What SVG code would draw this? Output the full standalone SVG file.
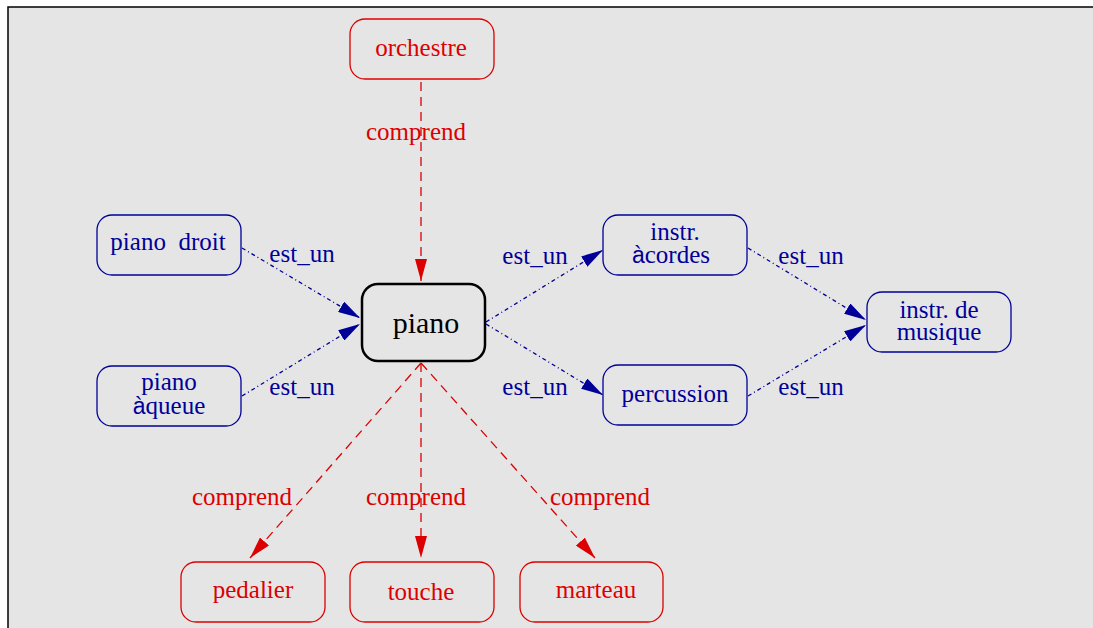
<svg xmlns="http://www.w3.org/2000/svg" width="1093" height="628" viewBox="0 0 1093 628">
<defs>
<style>
.t{font-family:"Liberation Serif","Times New Roman",serif;font-size:25px;text-anchor:middle}
.r{fill:#dd0000}
.b{fill:#000099}
.nr{fill:none;stroke:#dd0000;stroke-width:1.3}
.nb{fill:none;stroke:#000099;stroke-width:1.3}
.er{stroke:#dd0000;stroke-width:1.3;stroke-dasharray:9,6;fill:none;marker-end:url(#ar)}
.eb{stroke:#000099;stroke-width:1.3;stroke-dasharray:4,3,1,3;fill:none;marker-end:url(#ab)}
.s{font-family:"Liberation Sans",Arial,sans-serif;font-size:23px}
.big{font-size:30px;fill:#000}
</style>
<marker id="ar" markerUnits="userSpaceOnUse" markerWidth="22" markerHeight="12" refX="22" refY="6" orient="auto"><path d="M0,0 L22,6 L0,12 z" fill="#dd0000"/></marker>
<marker id="ab" markerUnits="userSpaceOnUse" markerWidth="22" markerHeight="12" refX="22" refY="6" orient="auto"><path d="M0,0 L22,6 L0,12 z" fill="#000099"/></marker>
</defs>
<rect x="0" y="0" width="1093" height="628" fill="#ffffff"/>
<rect x="8" y="7" width="1090" height="630" fill="#e5e5e5" stroke="#000" stroke-width="1.5"/>

<g id="connectors">
<line class="er" x1="421" y1="82" x2="421" y2="281"/>
<text class="t r" x="416" y="140">comprend</text>
<line class="eb" x1="242" y1="248" x2="360" y2="318"/>
<text class="t b" x="302" y="262">est_un</text>
<line class="eb" x1="242" y1="396" x2="360" y2="324"/>
<text class="t b" x="302" y="395">est_un</text>
<line class="eb" x1="486" y1="322" x2="603" y2="250"/>
<text class="t b" x="535" y="264">est_un</text>
<line class="eb" x1="486" y1="324" x2="603" y2="395"/>
<text class="t b" x="535" y="395">est_un</text>
<line class="eb" x1="748" y1="248" x2="866" y2="320"/>
<text class="t b" x="811" y="264">est_un</text>
<line class="eb" x1="748" y1="396" x2="866" y2="325"/>
<text class="t b" x="811" y="395">est_un</text>
<line class="er" x1="421" y1="363" x2="250" y2="558"/>
<text class="t r" x="242" y="505">comprend</text>
<line class="er" x1="421" y1="363" x2="421" y2="558"/>
<text class="t r" x="416" y="505">comprend</text>
<line class="er" x1="421" y1="363" x2="595" y2="558"/>
<text class="t r" x="600" y="505">comprend</text>
</g>

<g id="orchestre"><rect class="nr" x="350" y="19" width="144" height="60" rx="15"/><text class="t r" x="421" y="56">orchestre</text></g>
<g id="piano-droit"><rect class="nb" x="97" y="215" width="144" height="60" rx="15"/><text class="t b" x="168" y="250" xml:space="preserve">piano  droit</text></g>
<g id="piano-queue"><rect class="nb" x="97" y="366" width="144" height="60" rx="15"/><text class="t b" x="169" y="390">piano</text><text class="t b" x="169" y="414"><tspan class="s">à</tspan>queue</text></g>
<g id="piano"><rect x="362" y="284" width="123" height="77" rx="16" fill="none" stroke="#000" stroke-width="2.5"/><text class="t big" x="426" y="333">piano</text></g>
<g id="instr-cordes"><rect class="nb" x="603" y="215" width="144" height="60" rx="15"/><text class="t b" x="675" y="240">instr.</text><text class="t b" x="671" y="263"><tspan class="s">à</tspan>cordes</text></g>
<g id="percussion"><rect class="nb" x="603" y="365" width="144" height="60" rx="15"/><text class="t b" x="675" y="402">percussion</text></g>
<g id="instr-musique"><rect class="nb" x="867" y="292" width="144" height="60" rx="15"/><text class="t b" x="939" y="318">instr. de</text><text class="t b" x="939" y="340">musique</text></g>
<g id="pedalier"><rect class="nr" x="181" y="562" width="144" height="60" rx="15"/><text class="t r" x="253" y="598">pedalier</text></g>
<g id="touche"><rect class="nr" x="350" y="562" width="144" height="60" rx="15"/><text class="t r" x="421" y="600">touche</text></g>
<g id="marteau"><rect class="nr" x="520" y="562" width="143" height="60" rx="15"/><text class="t r" x="596" y="598">marteau</text></g>
</svg>
